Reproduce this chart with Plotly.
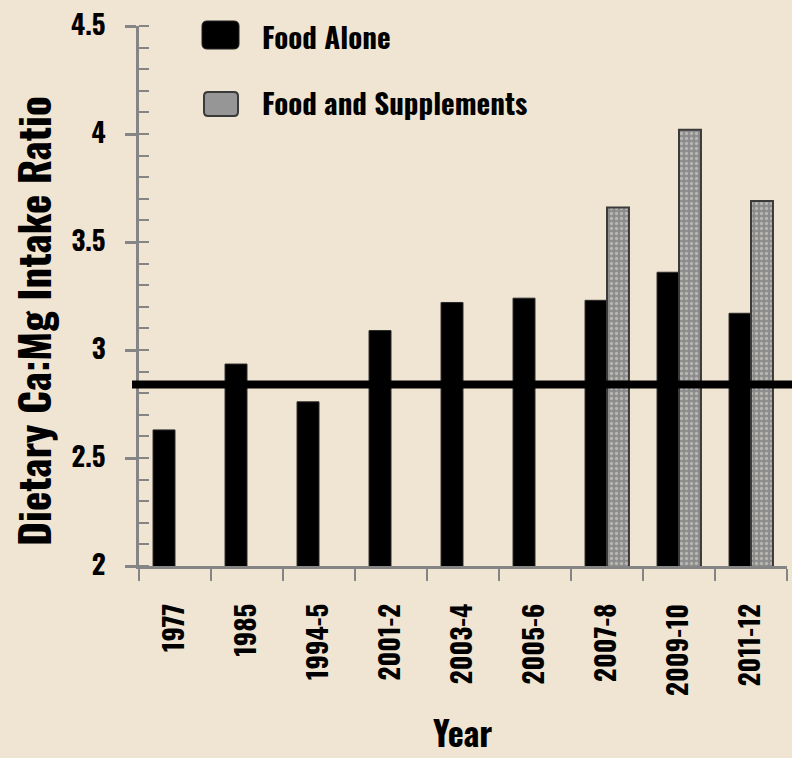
import plotly.graph_objects as go

years = ["1977", "1985", "1994-5", "2001-2", "2003-4", "2005-6", "2007-8", "2009-10", "2011-12"]
food_alone = [2.63, 2.935, 2.76, 3.09, 3.22, 3.24, 3.23, 3.36, 3.17]
food_supp = [None, None, None, None, None, None, 3.66, 4.02, 3.69]
reference_ratio = 2.84
y_ticks = [2, 2.5, 3, 3.5, 4, 4.5]
y_tick_text = ["2", "2.5", "3", "3.5", "4", "4.5"]

BG = "#f0e5d3"
AX = "#858585"
FONT = "Oswald, Roboto Condensed, DejaVu Sans Condensed, sans-serif"

W, H = 792, 758
L, R, T, B = 139, 5, 26, 192
pw, ph = W - L - R, H - T - B

def px(x):
    return (x - L) / pw

def py(y):
    return (H - B - y) / ph

fig = go.Figure()
fig.add_trace(go.Bar(
    x=years, y=food_alone, name="Food Alone",
    marker=dict(color="#000000", line=dict(color="#2a2a2a", width=1)),
    showlegend=False,
))
fig.add_trace(go.Bar(
    x=years, y=food_supp, name="Food and Supplements",
    marker=dict(color="#8c8c8c", line=dict(color="#3a3a3a", width=2),
                pattern=dict(shape=".", bgcolor="#8c8c8c", fgcolor="#e2e0d6", size=5, solidity=0.35)),
    showlegend=False,
))

fig.add_shape(type="line", xref="paper", yref="y", x0=px(132), x1=px(792),
              y0=reference_ratio, y1=reference_ratio, line=dict(color="#000000", width=8))


def rrect(x0, y0, x1, y1, r):
    X0, X1 = px(x0), px(x1)
    Y0, Y1 = py(y0), py(y1)
    rx, ry = r / pw, r / ph
    return (f"M {X0+rx},{Y0} L {X1-rx},{Y0} Q {X1},{Y0} {X1},{Y0-ry} "
            f"L {X1},{Y1+ry} Q {X1},{Y1} {X1-rx},{Y1} L {X0+rx},{Y1} "
            f"Q {X0},{Y1} {X0},{Y1+ry} L {X0},{Y0-ry} Q {X0},{Y0} {X0+rx},{Y0} Z")

fig.add_shape(type="path", xref="paper", yref="paper", path=rrect(202, 21, 239, 49, 5),
              fillcolor="#000000", line=dict(color="#222222", width=1))
fig.add_shape(type="path", xref="paper", yref="paper", path=rrect(204, 92, 238, 116, 4),
              fillcolor="#969696", line=dict(color="#3a3a3a", width=2))

fig.add_annotation(xref="paper", yref="paper", x=px(260), y=py(36), text="<b>Food Alone</b>",
                   showarrow=False, xanchor="left", yanchor="middle",
                   font=dict(family=FONT, size=29, color="#000000"))
fig.add_annotation(xref="paper", yref="paper", x=px(260), y=py(102), text="<b>Food and Supplements</b>",
                   showarrow=False, xanchor="left", yanchor="middle",
                   font=dict(family=FONT, size=29, color="#000000"))

fig.add_annotation(xref="paper", yref="paper", x=px(32), y=py(321), text="<b>Dietary Ca:Mg Intake Ratio</b>",
                   showarrow=False, xanchor="center", yanchor="middle", textangle=-90,
                   font=dict(family=FONT, size=41, color="#000000"))
fig.add_annotation(xref="paper", yref="paper", x=px(462), y=py(731), text="<b>Year</b>",
                   showarrow=False, xanchor="center", yanchor="middle",
                   font=dict(family=FONT, size=34, color="#000000"))

fig.update_layout(
    width=W, height=H,
    margin=dict(l=L, r=R, t=T, b=B, autoexpand=False),
    paper_bgcolor=BG, plot_bgcolor=BG,
    barmode="group", bargap=0.39, bargroupgap=0,
    showlegend=False,
    font=dict(family=FONT, color="#000000"),
)
fig.update_xaxes(
    type="category", showgrid=False, zeroline=False,
    showline=True, linecolor=AX, linewidth=3,
    ticks="outside", tickson="boundaries", ticklen=12, tickwidth=2, tickcolor=AX,
    tickangle=-90, ticklabelstandoff=24,
    tickfont=dict(family=FONT, size=27, color="#000000", weight="bold"),
)
fig.update_yaxes(
    range=[2, 4.5], showgrid=False, zeroline=False,
    showline=True, linecolor=AX, linewidth=3,
    tickvals=y_ticks, ticktext=y_tick_text,
    ticks="outside", ticklen=11, tickwidth=3, tickcolor=AX,
    ticklabelstandoff=14,
    minor=dict(dtick=0.1, ticks="inside", ticklen=10, tickwidth=2, tickcolor=AX),
    tickfont=dict(family=FONT, size=27, color="#000000", weight="bold"),
)

fig.write_html("out.html", config={"displayModeBar": False},
               post_script=f"document.body.style.margin='0';document.body.style.background='{BG}';")
